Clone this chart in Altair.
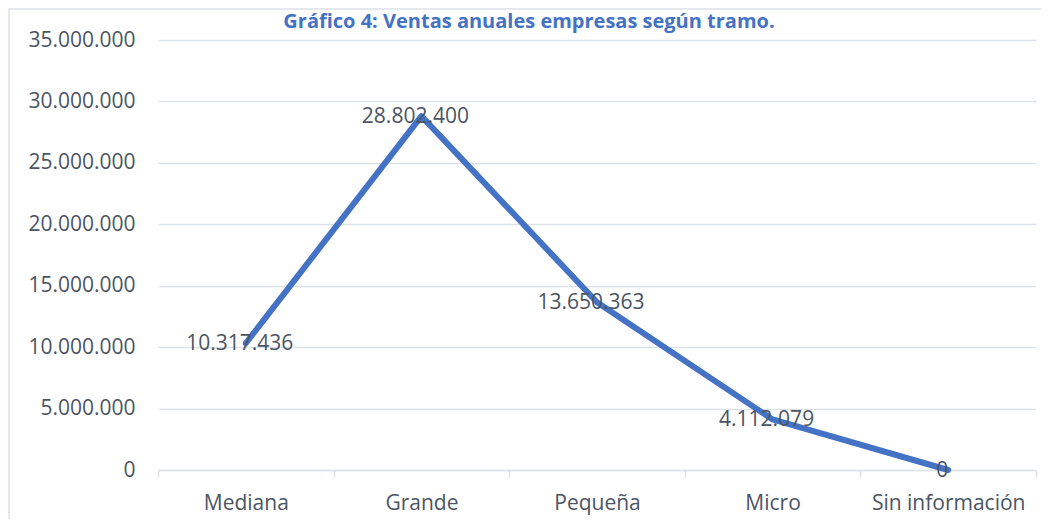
import altair as alt
import pandas as pd

categories = ["Mediana", "Grande", "Pequeña", "Micro", "Sin información"]
ventas = [10317436, 28802400, 13650363, 4112079, 0]
labels = ["10.317.436", "28.802.400", "13.650.363", "4.112.079", "0"]
y_ticks = [0, 5000000, 10000000, 15000000, 20000000, 25000000, 30000000, 35000000]
title_text = "Gráfico 4: Ventas anuales empresas según tramo."

df = pd.DataFrame({"cat": categories, "v": ventas, "lab": labels})

FONT = "Open Sans"
TXT = "#4b5563"
GRID = "#dde2e9"

x = alt.X("cat:N", sort=categories, title=None,
          scale=alt.Scale(paddingInner=0, paddingOuter=0),
          axis=alt.Axis(labelAngle=0, labelFont=FONT, labelFontSize=21, labelColor=TXT,
                        labelPadding=15, domainColor=GRID, domainWidth=1.5,
                        tickColor=GRID, tickWidth=1.5, tickSize=7, tickBand="extent",
                        grid=False))
y = alt.Y("v:Q", title=None,
          scale=alt.Scale(domain=[0, 35000000], nice=False),
          axis=alt.Axis(values=y_ticks, labelExpr="replace(format(datum.value, ',d'), /,/g, '.')",
                        labelFont=FONT, labelFontSize=21, labelColor=TXT, labelPadding=23,
                        tickSize=0, domain=False, gridColor=GRID, gridWidth=1.5))

base = alt.Chart(df)

line = base.mark_line(color="#4472C4", strokeWidth=6, strokeCap="round", strokeJoin="round").encode(x=x, y=y)

text = base.mark_text(font=FONT, fontSize=21, color=TXT, align="center", baseline="middle", dx=-6, dy=1).encode(
    x=alt.X("cat:N", sort=categories), y=alt.Y("v:Q"), text="lab:N")

frame_top = alt.Chart(pd.DataFrame({"a": [0]})).mark_rule(color=GRID, strokeWidth=1.5).encode(
    x=alt.value(-150), x2=alt.value(895), y=alt.value(-31))
frame_left = alt.Chart(pd.DataFrame({"a": [0]})).mark_rule(color=GRID, strokeWidth=1.5).encode(
    x=alt.value(-149), y=alt.value(-31), y2=alt.value(520))

title = alt.Chart(pd.DataFrame({"t": [title_text]})).mark_text(
    font=FONT, fontSize=20, fontWeight="bold", color="#4472C4", align="center", baseline="alphabetic").encode(
    x=alt.value(371), y=alt.value(-12), text="t:N")

chart = alt.layer(line, text, frame_top, frame_left, title).properties(
    width=878, height=430,
    autosize=alt.AutoSizeParams(type="none"),
    padding={"left": 150, "top": 32, "right": 5, "bottom": 49},
).configure_view(stroke=None)

chart.save("out.html", embed_options={"renderer": "svg", "actions": False})
